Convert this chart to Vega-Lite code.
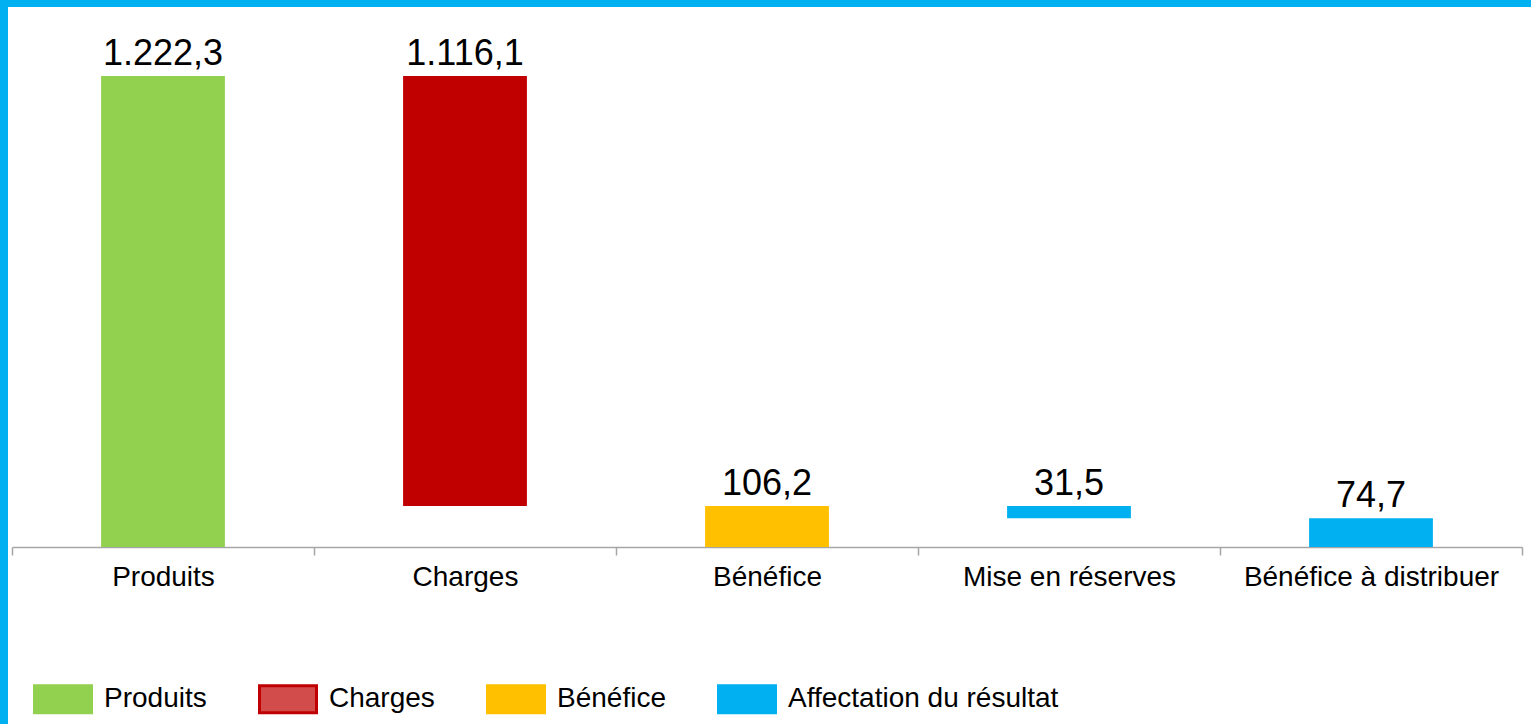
{
  "$schema": "https://vega.github.io/schema/vega-lite/v6.json",
  "autosize": {"type": "none"},
  "width": 1523,
  "height": 717,
  "padding": {"left": 8, "top": 7, "right": 0, "bottom": 0},
  "background": "#00B0F0",
  "config": {
    "view": {"fill": "white", "stroke": null},
    "font": "Liberation Sans",
    "locale": {"number": {"decimal": ",", "thousands": ".", "grouping": [3], "currency": ["", " €"]}}
  },
  "data": {"values": [
    {"poste": "Produits", "groupe": "Produits", "bas": 0, "haut": 1222.3, "montant": 1222.3},
    {"poste": "Charges", "groupe": "Charges", "bas": 106.2, "haut": 1222.3, "montant": 1116.1},
    {"poste": "Bénéfice", "groupe": "Bénéfice", "bas": 0, "haut": 106.2, "montant": 106.2},
    {"poste": "Mise en réserves", "groupe": "Affectation du résultat", "bas": 74.7, "haut": 106.2, "montant": 31.5},
    {"poste": "Bénéfice à distribuer", "groupe": "Affectation du résultat", "bas": 0, "haut": 74.7, "montant": 74.7}
  ]},
  "encoding": {
    "x": {
      "field": "poste", "type": "nominal", "sort": null,
      "scale": {"range": [4, 1514], "paddingInner": 0, "paddingOuter": 0},
      "axis": {"title": null, "orient": "bottom", "offset": -177, "labelAngle": 0, "labelFontSize": 28, "labelColor": "black", "domainColor": "#A6A6A6", "tickColor": "#A6A6A6", "tickSize": 8, "tickBand": "extent", "labelPadding": 8, "domainWidth": 1.5, "tickWidth": 1.5, "labelLimit": 400}
    }
  },
  "layer": [
    {
      "mark": {"type": "bar", "width": {"band": 0.41}},
      "encoding": {
        "y": {"field": "bas", "type": "quantitative", "scale": {"domain": [-459.3, 1401.4], "nice": false, "zero": false}, "axis": null},
        "y2": {"field": "haut"},
        "color": {
          "field": "groupe", "type": "nominal",
          "scale": {"domain": ["Produits", "Charges", "Bénéfice", "Affectation du résultat"], "range": ["#92D050", "#C00000", "#FFC000", "#00B0F0"]},
          "legend": {
            "orient": "none", "legendX": 25, "legendY": 662, "direction": "horizontal", "columns": 4,
            "title": null, "symbolType": "M-1,-0.4737H1V0.4737H-1Z", "symbolSize": 3249,
            "labelFontSize": 28, "labelColor": "black", "labelOffset": 11, "columnPadding": 46,
            "padding": 0, "symbolOpacity": 1, "labelLimit": 400, "symbolStrokeWidth": 3,
            "encode": {
              "symbols": {"update": {
                "stroke": {"signal": "scale('color', datum.value)"},
                "strokeWidth": {"value": 3},
                "fillOpacity": {"signal": "datum.value === 'Charges' ? 0.7 : 1"}
              }}
            }
          }
        }
      }
    },
    {
      "mark": {"type": "text", "baseline": "alphabetic", "dy": -11, "fontSize": 36, "color": "black"},
      "encoding": {
        "y": {"field": "haut", "type": "quantitative"},
        "text": {"field": "montant", "type": "quantitative", "format": ",.1f"}
      }
    }
  ]
}
